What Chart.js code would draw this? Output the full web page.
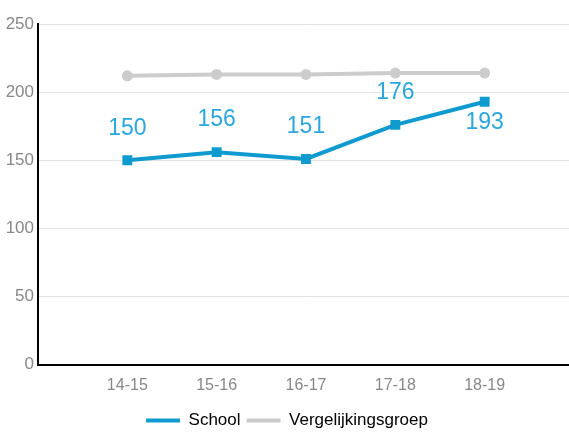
<!DOCTYPE html>
<html>
<head>
<meta charset="utf-8">
<script src="https://cdn.jsdelivr.net/npm/chart.js@4/dist/chart.umd.min.js"></script>
<style>
  html, body { margin: 0; padding: 0; background: #fff; overflow: hidden; }
  #wrap { width: 569px; height: 432px; overflow: hidden; }
</style>
</head>
<body>
<div id="wrap"><canvas id="myChart" width="604" height="432"></canvas></div>
<script>
// category slots: blank ones at both ends keep the gap seen left and right
const years = ["", "14-15", "15-16", "16-17", "17-18", "18-19", ""];
const schoolValues = [null, 150, 156, 151, 176, 193, null];
const groupValues = [null, 212, 213, 213, 214, 214, null];
const yTicks = [0, 50, 100, 150, 200, 250];

const FONT = "'Liberation Sans', Arial, sans-serif";
const BLUE = "#0f9bd0";
const LABEL_BLUE = "#2aa7de";
const GREY = "#cccccc";

// value labels for the School line
const valueLabels = {
  id: "valueLabels",
  afterDatasetsDraw(chart) {
    const ctx = chart.ctx;
    const meta = chart.getDatasetMeta(0);
    ctx.save();
    ctx.font = "23px " + FONT;
    ctx.fillStyle = LABEL_BLUE;
    ctx.textAlign = "center";
    ctx.textBaseline = "middle";
    meta.data.forEach((pt, i) => {
      const v = schoolValues[i];
      if (v == null) return;
      const last = i === schoolValues.length - 2;
      ctx.fillText(String(v), pt.x, last ? pt.y + 21 : pt.y - 32);
    });
    ctx.restore();
  }
};

const ctx = document.getElementById("myChart").getContext("2d");
const myChart = new Chart(ctx, {
  type: "line",
  data: {
    labels: years,
    datasets: [
      {
        label: "School",
        data: schoolValues,
        borderColor: BLUE,
        backgroundColor: BLUE,
        borderWidth: 4,
        pointStyle: "rect",
        pointRadius: 7,
        pointBorderWidth: 0,
        tension: 0,
      },
      {
        label: "Vergelijkingsgroep",
        data: groupValues,
        borderColor: GREY,
        backgroundColor: GREY,
        borderWidth: 4,
        pointStyle: "circle",
        pointRadius: 5.5,
        pointBorderWidth: 0,
        tension: 0,
      },
    ],
  },
  options: {
    responsive: false,
    animation: false,
    layout: { padding: { top: 24, right: 30, left: 0, bottom: -7 } },
    plugins: {
      tooltip: { enabled: false },
      legend: {
        position: "bottom",
        labels: {
          boxWidth: 34,
          boxHeight: 4,
          color: "#333",
          font: { family: FONT, size: 17 },
          padding: 6,
          generateLabels(chart) {
            return chart.data.datasets.map((ds, i) => ({
              text: ds.label,
              fillStyle: ds.borderColor,
              strokeStyle: ds.borderColor,
              lineWidth: 0,
              datasetIndex: i,
            }));
          },
        },
      },
    },
    scales: {
      x: {
        offset: false,
        afterFit(scale) { scale.paddingLeft = 0; scale.paddingRight = 0; },
        grid: { display: false, drawTicks: false },
        border: { color: "#000", width: 2 },
        ticks: { color: "#888", font: { family: FONT, size: 16 }, padding: 11, autoSkip: false, maxRotation: 0 },
      },
      y: {
        min: 0,
        max: 250,
        afterBuildTicks(scale) {
          scale.ticks = yTicks.map(v => ({ value: v }));
        },
        afterFit(scale) { scale.width = 38; },
        grid: { color: "#e3e3e3", lineWidth: 1, drawTicks: false },
        border: { color: "#000", width: 2 },
        ticks: { color: "#888", font: { family: FONT, size: 17 }, padding: 4 },
      },
    },
  },
  plugins: [valueLabels],
});
</script>
</body>
</html>
